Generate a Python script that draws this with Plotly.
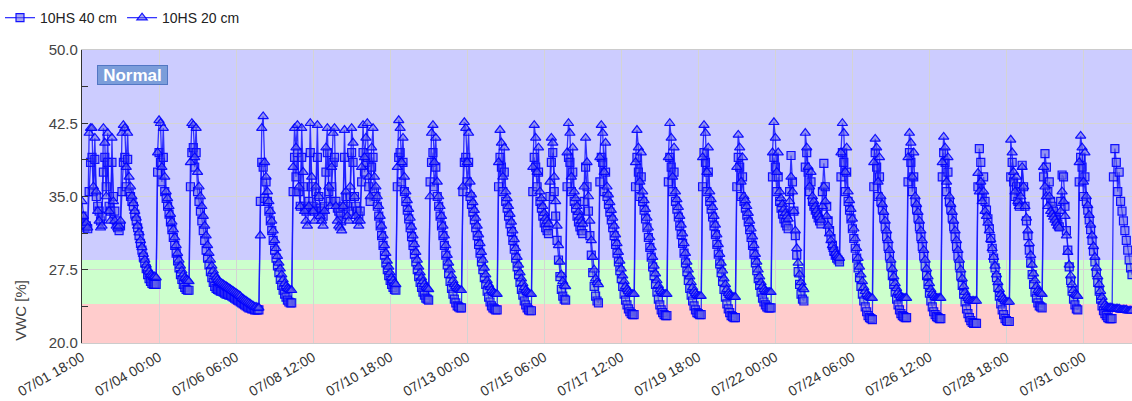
import pandas as pd
import plotly.graph_objects as go

# ---- data: hourly readings starting 07/01 18:00 (one row per irrigation cycle) ----
start_time = "2024-07-01 18:00"
step = "1h"

vwc_40cm = [
    # 07/01 18:00 multi-pulse period, then drying
    33.0, 32.2, 31.8, 32.0, 31.7, 35.5, 38.5, 39.0, 35.5, 38.8, 35.0, 34.0, 33.5, 32.5, 33.0, 37.5, 39.0, 36.0,
    38.5, 34.0, 33.5, 38.5, 35.0, 33.5, 32.5, 31.8, 31.5, 32.0, 35.5, 38.5, 39.0, 36.0, 38.8, 35.5, 35.0, 34.5,
    34.0, 33.2, 32.5, 31.8, 31.0, 30.2, 29.5, 28.8, 28.2, 27.6, 27.0, 26.6, 26.3, 26.1, 26.0, 26.0, 26.0,
    # h53
    37.5, 39.5, 38.5, 36.5, 39.0, 35.5, 34.8, 34.0, 33.2, 32.4, 31.6, 30.8, 30.0, 29.2, 28.4, 27.7, 27.0, 26.5,
    26.0, 25.7, 25.5, 25.4, 25.4,
    # h76 (long drying)
    36.0, 39.5, 40.0, 38.0, 39.5, 35.5, 34.5, 33.5, 32.5, 31.5, 30.5, 29.5, 28.7, 28.0, 27.3, 26.7, 26.2, 25.8,
    25.6, 25.5, 25.4, 25.3, 25.3, 25.2, 25.1, 25.0, 25.0, 24.9, 24.9, 24.8, 24.7, 24.6, 24.5, 24.4, 24.3, 24.2,
    24.1, 24.0, 23.9, 23.8, 23.7, 23.6, 23.6, 23.5, 23.5, 23.4, 23.4, 23.4, 23.4,
    # h125
    34.5, 38.5, 38.0, 34.8, 36.5, 34.5, 33.5, 32.5, 31.5, 30.5, 29.5, 28.7, 27.9, 27.2, 26.5, 25.9, 25.4, 25.0,
    24.7, 24.4, 24.2, 24.1, 24.1,
    # h148 multi-pulse period
    35.5, 39.0, 37.0, 39.5, 35.5, 34.0, 39.0, 36.0, 34.0, 33.5, 33.8, 34.5, 39.5, 36.0, 34.0, 33.5, 35.5, 39.0,
    35.0, 33.8, 33.5, 33.0, 34.0, 37.5, 39.5, 35.5, 34.5, 36.0, 38.5, 39.0, 34.5, 33.8, 33.5, 33.0, 32.5, 34.0,
    39.0, 35.0, 34.0, 33.5, 35.0, 39.5, 38.5, 35.0, 34.0, 33.5, 33.0, 33.5, 36.5, 39.5, 37.5, 38.5, 39.0, 36.0,
    34.5, 38.0, 39.0, 35.5, 35.0, 34.0, 33.0, 32.0, 31.0, 30.0, 29.0, 28.2, 27.5, 26.9, 26.4, 26.0, 25.7, 25.5,
    25.4,
    # h221
    36.0, 39.0, 39.5, 36.5, 38.5, 35.5, 34.5, 33.6, 32.7, 31.8, 30.9, 30.0, 29.1, 28.3, 27.5, 26.8, 26.2, 25.7,
    25.2, 24.9, 24.6, 24.5, 24.4,
    # h244
    36.5, 38.5, 39.5, 36.0, 38.0, 35.0, 34.0, 33.0, 32.0, 31.0, 30.0, 29.0, 28.0, 27.1, 26.3, 25.6, 25.0, 24.5,
    24.1, 23.8, 23.7, 23.6, 23.6,
    # h267
    35.5, 38.5, 39.0, 36.5, 38.5, 35.0, 34.2, 33.4, 32.6, 31.8, 31.0, 30.1, 29.2, 28.3, 27.5, 26.7, 26.0, 25.3,
    24.7, 24.2, 23.8, 23.6, 23.5, 23.4, 23.4,
    # h292
    36.0, 39.0, 38.0, 35.5, 37.5, 34.5, 33.8, 33.0, 32.2, 31.4, 30.5, 29.6, 28.7, 27.8, 27.0, 26.2, 25.5, 24.9,
    24.3, 23.9, 23.6, 23.4, 23.3, 23.3,
    # h316
    35.5, 39.0, 38.0, 36.0, 37.5, 34.5, 33.8, 33.0, 32.3, 31.8, 31.5, 31.2, 35.0, 38.5, 39.5, 35.5, 33.0, 30.5,
    28.5, 26.8, 25.5, 24.8, 24.5, 24.4,
    # h340
    36.0, 39.0, 38.5, 35.5, 37.5, 34.5, 33.8, 33.0, 32.4, 31.9, 31.5, 31.2, 34.5, 38.0, 36.0, 33.5, 31.0, 29.0,
    27.2, 25.8, 24.8, 24.3, 24.1,
    # h363
    36.5, 39.0, 38.5, 35.5, 37.5, 35.0, 34.2, 33.4, 32.6, 31.8, 31.0, 30.1, 29.2, 28.3, 27.4, 26.6, 25.8, 25.0,
    24.4, 23.9, 23.5, 23.2, 23.0, 22.9, 22.9,
    # h388
    36.0, 39.0, 37.5, 35.0, 37.0, 34.5, 33.6, 32.7, 31.8, 30.8, 29.8, 28.8, 27.8, 26.9, 26.0, 25.2, 24.5, 23.9,
    23.4, 23.1, 22.9, 22.8, 22.8,
    # h411
    36.5, 39.0, 38.0, 35.5, 37.5, 34.5, 33.7, 32.9, 32.0, 31.1, 30.2, 29.2, 28.2, 27.3, 26.4, 25.6, 24.9, 24.3,
    23.8, 23.4, 23.1, 23.0, 22.9, 22.9,
    # h435
    36.0, 39.5, 38.5, 35.5, 37.5, 34.5, 33.7, 32.9, 32.0, 31.1, 30.1, 29.1, 28.1, 27.2, 26.3, 25.5, 24.7, 24.0,
    23.5, 23.1, 22.8, 22.7, 22.6, 22.6,
    # h459
    36.0, 39.0, 38.0, 35.0, 37.0, 34.5, 33.8, 33.1, 32.4, 31.6, 30.8, 30.0, 29.1, 28.2, 27.4, 26.6, 25.9, 25.2,
    24.6, 24.2, 23.9, 23.7, 23.6, 23.6, 23.6,
    # h484
    37.0, 39.0, 38.0, 35.5, 37.0, 34.5, 33.8, 33.2, 32.7, 32.3, 32.0, 31.7, 35.5, 39.2, 36.5, 33.5, 31.0, 29.0,
    27.3, 26.0, 25.0, 24.5, 24.3,
    # h507
    38.0, 39.5, 37.5, 35.5, 36.5, 34.5, 34.0, 33.6, 33.2, 32.8, 32.5, 32.2, 35.5, 38.4, 36.0, 34.0, 32.5, 31.5,
    30.7, 30.0, 29.4, 29.0, 28.7, 28.5, 28.3,
    # h532
    37.0, 39.5, 38.5, 35.5, 37.5, 34.5, 33.6, 32.7, 31.7, 30.7, 29.7, 28.7, 27.7, 26.7, 25.8, 25.0, 24.3, 23.7,
    23.2, 22.8, 22.6, 22.5, 22.4,
    # h555
    36.0, 39.5, 38.0, 35.0, 37.0, 34.5, 33.7, 32.8, 31.9, 30.9, 29.9, 28.9, 27.9, 26.9, 26.0, 25.2, 24.5, 23.9,
    23.4, 23.0, 22.8, 22.7, 22.6, 22.6,
    # h579
    36.5, 39.5, 38.5, 35.5, 37.0, 34.5, 33.7, 32.8, 31.9, 30.9, 29.9, 28.9, 27.9, 26.9, 26.0, 25.1, 24.3, 23.7,
    23.2, 22.9, 22.7, 22.6, 22.5, 22.5,
    # h603
    37.0, 39.5, 38.5, 35.5, 37.5, 34.5, 33.7, 32.8, 31.9, 30.9, 29.9, 28.9, 27.9, 26.9, 25.9, 25.0, 24.2, 23.5,
    23.0, 22.6, 22.3, 22.1, 22.0, 22.0, 22.0,
    # h628
    36.0, 39.9, 38.5, 35.0, 37.0, 34.5, 33.6, 32.7, 31.7, 30.7, 29.7, 28.7, 27.7, 26.7, 25.7, 24.8, 24.0, 23.4,
    22.9, 22.5, 22.3, 22.2, 22.2,
    # h651
    37.0, 38.5, 36.5, 35.0, 36.0, 34.5, 34.0, 35.5, 38.2, 36.0, 34.0, 32.5, 31.0, 29.5, 28.2, 27.0, 26.0, 25.2,
    24.6, 24.1, 23.8, 23.7, 23.6,
    # h674
    37.0, 39.4, 38.0, 35.5, 36.5, 34.5, 34.0, 33.5, 33.0, 32.6, 32.2, 31.9, 34.5, 37.2, 37.0, 34.0, 31.5, 29.5,
    27.8, 26.4, 25.3, 24.5, 23.9, 23.5, 23.4,
    # h699
    36.5, 39.0, 38.0, 35.0, 37.0, 34.5, 33.6, 32.6, 31.6, 30.5, 29.4, 28.3, 27.2, 26.2, 25.3, 24.5, 23.8, 23.3,
    23.0, 22.8, 22.6, 22.5, 22.5, 22.5,
    # h723
    37.0, 39.9, 38.5, 35.5, 37.5, 34.5, 33.5, 32.5, 31.5, 30.5, 29.5, 28.5, 27.7, 27.0,
]

vwc_20cm = [
    # 07/01 18:00 multi-pulse period, then drying
    34.5, 33.0, 32.0, 32.3, 31.8, 41.5, 42.0, 42.0, 36.0, 41.0, 35.5, 33.5, 32.5, 31.8, 32.0, 42.0, 40.5, 35.0,
    41.5, 33.5, 32.5, 41.0, 34.5, 32.5, 32.0, 31.8, 32.0, 32.5, 41.5, 42.3, 42.0, 38.0, 41.5, 37.0, 36.0, 35.0,
    34.3, 33.5, 32.8, 32.0, 31.3, 30.5, 29.8, 29.1, 28.5, 28.0, 27.6, 27.3, 27.0, 26.9, 26.8, 26.8, 26.7,
    # h53
    39.5, 42.8, 42.5, 38.0, 42.0, 37.0, 35.5, 34.8, 34.0, 33.2, 32.4, 31.6, 30.8, 30.0, 29.2, 28.5, 27.9, 27.4,
    27.0, 26.7, 26.5, 26.4, 26.3,
    # h76 (long drying)
    38.5, 42.5, 42.3, 39.0, 42.0, 37.5, 36.0, 35.0, 34.0, 33.0, 32.0, 31.0, 30.0, 29.2, 28.5, 27.9, 27.4, 27.0,
    26.7, 26.5, 26.3, 26.2, 26.1, 26.0, 25.9, 25.8, 25.7, 25.6, 25.5, 25.4, 25.3, 25.2, 25.1, 25.0, 24.9, 24.8,
    24.6, 24.5, 24.4, 24.3, 24.2, 24.1, 24.0, 23.9, 23.8, 23.7, 23.7, 23.6, 23.6,
    # h125
    31.0, 42.0, 43.2, 38.5, 37.0, 35.5, 34.5, 33.5, 32.5, 31.5, 30.5, 29.7, 28.9, 28.2, 27.6, 27.0, 26.5, 26.1,
    25.8, 25.6, 25.5, 25.4, 25.4,
    # h148 multi-pulse period
    38.0, 42.0, 40.0, 42.3, 36.0, 34.0, 42.0, 37.5, 33.5, 32.5, 32.0, 34.0, 42.5, 37.0, 33.5, 32.5, 36.0, 42.3,
    35.0, 33.0, 32.5, 32.0, 33.5, 40.0, 42.0, 36.0, 34.0, 38.0, 41.5, 42.0, 34.0, 32.5, 32.0, 31.8, 31.5, 34.0,
    41.8, 35.5, 33.0, 32.5, 36.0, 42.0, 40.5, 35.0, 33.0, 32.5, 32.0, 32.5, 38.0, 42.3, 39.0, 41.0, 42.5, 37.0,
    35.0, 40.0, 42.0, 37.0, 36.0, 35.0, 34.0, 33.0, 32.0, 31.0, 30.0, 29.2, 28.4, 27.8, 27.2, 26.7, 26.4, 26.1,
    26.0,
    # h221
    38.0, 42.8, 42.0, 38.5, 41.0, 37.0, 35.5, 34.6, 33.7, 32.8, 31.9, 31.0, 30.1, 29.3, 28.5, 27.8, 27.2, 26.7,
    26.3, 26.0, 25.7, 25.6, 25.5,
    # h244
    35.0, 41.5, 42.3, 38.5, 41.0, 36.5, 35.0, 34.0, 33.0, 32.0, 31.0, 30.0, 29.0, 28.2, 27.5, 26.9, 26.4, 26.0,
    25.8, 25.6, 25.5, 25.4, 25.4,
    # h267
    36.0, 42.6, 42.0, 38.5, 41.5, 36.5, 35.2, 34.4, 33.6, 32.8, 32.0, 31.1, 30.2, 29.3, 28.5, 27.7, 27.0, 26.4,
    26.0, 25.7, 25.4, 25.2, 25.1, 25.0, 25.0,
    # h292
    38.5, 41.8, 40.5, 37.0, 40.0, 35.5, 34.8, 34.0, 33.2, 32.4, 31.5, 30.6, 29.7, 28.8, 28.0, 27.2, 26.6, 26.1,
    25.7, 25.4, 25.2, 25.1, 25.0, 25.0,
    # h316
    38.0, 42.3, 41.0, 37.5, 40.0, 35.5, 34.8, 34.0, 33.3, 32.8, 32.5, 32.2, 36.5, 41.0, 40.5, 37.0, 34.5, 32.0,
    30.0, 28.3, 27.0, 26.3, 25.9, 25.8,
    # h340
    39.5, 42.5, 41.5, 37.0, 40.0, 35.5, 34.8, 34.0, 33.4, 32.9, 32.5, 32.2, 36.0, 41.0, 38.5, 35.0, 32.5, 30.5,
    28.8, 27.5, 26.6, 26.2, 26.0,
    # h363
    39.0, 42.3, 41.5, 37.5, 40.5, 36.0, 35.2, 34.4, 33.6, 32.8, 32.0, 31.1, 30.2, 29.3, 28.4, 27.6, 26.9, 26.3,
    25.8, 25.5, 25.3, 25.1, 25.0, 25.0, 25.0,
    # h388
    38.5, 41.8, 40.0, 36.5, 39.5, 35.5, 34.6, 33.7, 32.8, 31.8, 30.8, 29.8, 28.8, 27.9, 27.1, 26.4, 25.9, 25.5,
    25.3, 25.1, 25.0, 25.0, 25.0,
    # h411
    39.0, 42.5, 41.0, 37.0, 40.0, 35.5, 34.7, 33.9, 33.0, 32.1, 31.2, 30.2, 29.2, 28.3, 27.5, 26.8, 26.2, 25.7,
    25.3, 25.1, 24.9, 24.8, 24.8, 24.8,
    # h435
    39.0, 42.3, 41.5, 37.5, 40.0, 35.5, 34.7, 33.9, 33.0, 32.1, 31.1, 30.1, 29.1, 28.2, 27.4, 26.6, 26.0, 25.5,
    25.1, 24.9, 24.8, 24.7, 24.7, 24.7,
    # h459
    38.0, 41.3, 40.0, 36.5, 39.0, 35.0, 34.6, 34.0, 33.3, 32.5, 31.7, 30.9, 30.0, 29.1, 28.3, 27.5, 26.8, 26.2,
    25.8, 25.5, 25.3, 25.2, 25.2, 25.2, 25.2,
    # h484
    39.5, 42.6, 41.0, 37.5, 39.5, 35.5, 34.8, 34.2, 33.7, 33.3, 33.0, 32.7, 34.5, 37.0, 35.5, 33.5, 31.5, 29.7,
    28.2, 27.0, 26.2, 25.7, 25.5,
    # h507
    41.5, 40.0, 38.0, 36.0, 37.5, 35.0, 34.5, 34.0, 33.6, 33.2, 32.9, 32.6, 34.0, 36.0, 34.5, 33.0, 32.0, 31.2,
    30.5, 30.0, 29.6, 29.2, 29.0, 28.8, 28.7,
    # h532
    39.5, 42.5, 41.5, 37.5, 40.0, 35.5, 34.6, 33.7, 32.7, 31.7, 30.7, 29.7, 28.7, 27.8, 27.0, 26.3, 25.7, 25.3,
    25.0, 24.8, 24.7, 24.6, 24.6,
    # h555
    38.5, 40.9, 40.0, 36.5, 39.0, 35.0, 34.2, 33.4, 32.5, 31.5, 30.5, 29.5, 28.5, 27.6, 26.8, 26.1, 25.6, 25.2,
    24.9, 24.7, 24.6, 24.6, 24.6, 24.6,
    # h579
    39.0, 41.5, 40.5, 37.0, 39.5, 35.0, 34.2, 33.4, 32.5, 31.5, 30.5, 29.5, 28.5, 27.6, 26.8, 26.1, 25.5, 25.1,
    24.9, 24.7, 24.6, 24.6, 24.6, 24.6,
    # h603
    38.5, 41.1, 40.0, 36.5, 39.0, 35.0, 34.2, 33.4, 32.5, 31.5, 30.5, 29.5, 28.5, 27.5, 26.6, 25.8, 25.2, 24.8,
    24.6, 24.4, 24.3, 24.3, 24.3, 24.3, 24.3,
    # h628
    37.4, 35.5, 36.5, 34.5, 35.5, 33.5, 33.0, 32.3, 31.5, 30.6, 29.7, 28.8, 27.9, 27.0, 26.2, 25.5, 25.0, 24.7,
    24.5, 24.3, 24.2, 24.2, 24.2,
    # h651
    40.8, 39.5, 37.5, 35.5, 37.0, 34.5, 34.0, 35.0, 38.0, 36.0, 34.0, 32.8, 31.5, 30.2, 29.0, 28.0, 27.1, 26.4,
    25.8, 25.4, 25.2, 25.1, 25.0,
    # h674
    38.0, 36.0, 35.0, 34.0, 35.0, 33.5, 33.2, 32.9, 32.6, 32.3, 32.0, 31.8, 33.5, 35.5, 34.5, 33.0, 31.0, 29.3,
    28.0, 26.9, 26.0, 25.4, 25.0, 24.9, 24.8,
    # h699
    38.5, 41.2, 40.0, 36.5, 39.5, 35.0, 34.1, 33.1, 32.1, 31.0, 29.9, 28.8, 27.7, 26.8, 26.0, 25.3, 24.7, 24.2,
    23.9, 23.7, 23.6, 23.6, 23.6, 23.6,
    # h723
    23.5, 23.5, 23.5, 23.5, 23.5, 23.4, 23.4, 23.4, 23.4, 23.4, 23.3, 23.3, 23.3, 23.3,
]

series_names = ["10HS 40 cm", "10HS 20 cm"]
series_symbols = ["square", "triangle-up"]

band_edges = [20.0, 24.0, 28.5, 50.0]
band_colors = ["#ffcccc", "#ccffcc", "#ccccff"]

y_ticks = [20.0, 27.5, 35.0, 42.5, 50.0]
tick_hours = 54
status_label = "Normal"
y_title = "VWC [%]"

# ---- figure ----
fig = go.Figure()
t_first, t_last = None, None
for name, sym, vals in zip(series_names, series_symbols, [vwc_40cm, vwc_20cm]):
    times = pd.date_range(start_time, periods=len(vals), freq=step)
    t_first = times[0]
    t_last = times[-1] if t_last is None else max(t_last, times[-1])
    fig.add_trace(go.Scatter(
        x=times, y=vals, name=name, mode="lines+markers",
        line=dict(color="rgba(20,20,255,0.85)", width=1.3),
        marker=dict(symbol=sym, size=8 if sym == "square" else 9,
                    color="rgba(100,100,230,0.55)",
                    line=dict(color="rgba(0,0,255,0.9)", width=1.2)),
    ))

for lo, hi, col in zip(band_edges[:-1], band_edges[1:], band_colors):
    fig.add_shape(type="rect", xref="paper", yref="y", x0=0, x1=1, y0=lo, y1=hi,
                  fillcolor=col, line_width=0, layer="below")

fig.add_annotation(text="<b>" + status_label + "</b>", xref="paper", yref="paper",
                   x=0.0143, y=0.915, xanchor="left", yanchor="middle", showarrow=False,
                   width=67, height=16, align="center",
                   font=dict(family="Liberation Sans, Arial", size=17, color="white"),
                   bgcolor="#7b9dda", bordercolor="#5277c4", borderwidth=1, borderpad=1)

fig.add_annotation(text=y_title, xref="paper", yref="paper", x=-0.058, y=0.11,
                   textangle=-90, showarrow=False, xanchor="center", yanchor="middle",
                   font=dict(family="Liberation Sans, Arial", size=15, color="#444"))

fig.update_layout(
    width=1132, height=401,
    margin=dict(l=82, r=0, t=50, b=58, autoexpand=False),
    paper_bgcolor="white", plot_bgcolor="white",
    font=dict(family="Liberation Sans, Arial", size=14, color="#444"),
    showlegend=True,
    legend=dict(orientation="h", xref="container", yref="container",
                x=-0.02, y=0.955, xanchor="left", yanchor="middle",
                font=dict(size=14, color="#222"), itemwidth=30, tracegroupgap=0,
                bgcolor="rgba(0,0,0,0)"),
    xaxis=dict(type="date", range=[t_first, t_last], tick0=t_first,
               dtick=tick_hours * 3600 * 1000, automargin=False,
               tickformat="%m/%d %H:%M", tickangle=-30, showgrid=True,
               gridcolor="#d4d4d4", gridwidth=1, showline=True, linecolor="#cccccc",
               mirror=True, ticks="", zeroline=False,
               tickfont=dict(size=14, color="#333")),
    yaxis=dict(range=[20, 50], tickvals=y_ticks, tickformat=".1f", automargin=False,
               showgrid=True, gridcolor="#d4d4d4", gridwidth=1,
               showline=True, linecolor="#333", linewidth=1.2,
               ticks="inside", ticklen=6, tickcolor="#333",
               minor=dict(dtick=3.75, tick0=20, ticks="inside", ticklen=6,
                          tickcolor="#333", showgrid=False),
               zeroline=False, tickfont=dict(size=15, color="#444")),
)

fig.write_html("out.html", config={"displayModeBar": False},
               post_script="document.body.style.margin='0px';document.body.style.overflow='hidden';")
